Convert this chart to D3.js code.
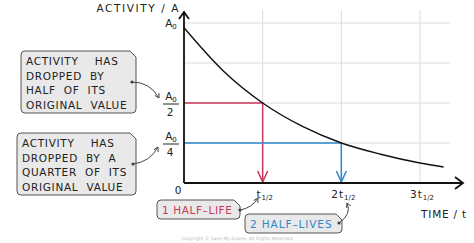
<!DOCTYPE html>
<html>
<head>
<meta charset="utf-8">
<script src="https://cdn.jsdelivr.net/npm/d3@7"></script>
<style>
  body { margin: 0; background: #fff; }
  svg { display: block; font-family: "DejaVu Sans", sans-serif; }
</style>
</head>
<body>
<svg width="474" height="243"></svg>
<script>
var width = 474;
var height = 243;

// decay curve (time in half-lives, activity as fraction of A0)
var halfLives = [0, 0.5, 1, 1.5, 2, 2.5, 3, 3.3];
var activity  = [0.97, 0.7, 0.5, 0.355, 0.25, 0.18, 0.125, 0.1];

var gridY = [0.25, 0.5, 0.75, 1];
var gridX = [1, 2, 3];
var tickPrefix = ["", "2", "3"];

var markerLevels = [0.5, 0.25];   // A0/2 and A0/4
var markerTimes  = [1, 2];
var markerColors = ["#c8385a", "#2f86c8"];

var boxLines1 = ["ACTIVITY    HAS", "DROPPED  BY", "HALF  OF  ITS", "ORIGINAL  VALUE"];
var boxLines2 = ["ACTIVITY    HAS", "DROPPED  BY  A", "QUARTER  OF  ITS", "ORIGINAL  VALUE"];
var halfLifeLabels = ["1 HALF\u2013LIFE", "2 HALF\u2013LIVES"];

var x = d3.scaleLinear().domain([0, 3]).range([184, 420]);
var y = d3.scaleLinear().domain([0, 1]).range([183, 23]);

var svg = d3.select('svg');

// grid
svg.selectAll('.gy').data(gridY).enter().append('line')
  .attr('x1', x(0)).attr('x2', x(3.38))
  .attr('y1', function(d) { return y(d); }).attr('y2', function(d) { return y(d); })
  .attr('stroke', '#dcdcdc').attr('stroke-width', 1);
svg.selectAll('.gx').data(gridX).enter().append('line')
  .attr('x1', function(d) { return x(d); }).attr('x2', function(d) { return x(d); })
  .attr('y1', y(0)).attr('y2', y(1.08))
  .attr('stroke', '#dcdcdc').attr('stroke-width', 1);

// red / blue guide lines
markerLevels.forEach(function(lv, i) {
  var c = markerColors[i];
  var tx = x(markerTimes[i]);
  svg.append('path')
    .attr('d', 'M' + x(0) + ',' + y(lv) + 'H' + tx + 'V' + (y(0) - 1))
    .attr('fill', 'none').attr('stroke', c).attr('stroke-width', 1.5);
  svg.append('path')
    .attr('d', 'M' + (tx - 5) + ',' + (y(0) - 12) + 'L' + tx + ',' + (y(0) - 1) + 'L' + (tx + 5) + ',' + (y(0) - 12))
    .attr('fill', 'none').attr('stroke', c).attr('stroke-width', 1.5);
});

// decay curve
var pts = halfLives.map(function(t, i) { return [x(t), y(activity[i])]; });
svg.append('path')
  .attr('d', d3.line().curve(d3.curveMonotoneX)(pts))
  .attr('fill', 'none').attr('stroke', '#111').attr('stroke-width', 1.4);

// axes
svg.append('path')
  .attr('d', 'M' + x(0) + ',' + y(0) + 'V12 M' + (x(0) - 5) + ',19 L' + x(0) + ',12 L' + (x(0) + 5) + ',19')
  .attr('fill', 'none').attr('stroke', '#111').attr('stroke-width', 1.8);
svg.append('path')
  .attr('d', 'M' + x(0) + ',' + y(0) + 'H463 M455,177 L463,' + y(0) + ' L455,189')
  .attr('fill', 'none').attr('stroke', '#111').attr('stroke-width', 1.8);

var ink = '#222';
var fs = 10.5;

function label(px, py, anchor, s, ls) {
  return svg.append('text').attr('x', px).attr('y', py).attr('text-anchor', anchor)
    .attr('font-size', fs).attr('letter-spacing', ls).attr('fill', ink)
    .attr('xml:space', 'preserve').text(s);
}

// axis titles
label(180, 12, 'end', 'ACTIVITY / A', 1.6);
label(467, 218, 'end', 'TIME / t', 0.8);
label(178, 194, 'middle', '0', 0);

// A0 label
function a0(px, py) {
  var t = svg.append('text').attr('x', px).attr('y', py).attr('text-anchor', 'middle')
    .attr('font-size', fs).attr('fill', ink);
  t.append('tspan').text('A');
  t.append('tspan').attr('font-size', 7).attr('dy', 2).text('0');
}
a0(171, 27);

// fraction labels
[2, 4].forEach(function(den, i) {
  var ly = y(markerLevels[i]) + 1;
  a0(171, ly - 4);
  svg.append('line').attr('x1', 163).attr('x2', 179).attr('y1', ly).attr('y2', ly)
    .attr('stroke', ink).attr('stroke-width', 1);
  svg.append('text').attr('x', 170).attr('y', ly + 12).attr('text-anchor', 'middle')
    .attr('font-size', fs).attr('fill', ink).text(den);
});

// t1/2 tick labels
gridX.forEach(function(d, i) {
  var t = svg.append('text').attr('x', x(d) + 2).attr('y', 198).attr('text-anchor', 'middle')
    .attr('font-size', fs).attr('fill', ink);
  t.append('tspan').attr('letter-spacing', 1).text(tickPrefix[i] + 't');
  t.append('tspan').attr('font-size', 7).attr('dy', 2).text('1/2');
});

// callout box with bevelled top-right corner
function callout(x0, y0, w, h, lines, color, lh, ls) {
  var r = 4, cut = 6;
  var p = d3.path();
  p.moveTo(x0 + r, y0);
  p.lineTo(x0 + w - cut, y0);
  p.lineTo(x0 + w, y0 + cut);
  p.lineTo(x0 + w, y0 + h - r);
  p.quadraticCurveTo(x0 + w, y0 + h, x0 + w - r, y0 + h);
  p.lineTo(x0 + r, y0 + h);
  p.quadraticCurveTo(x0, y0 + h, x0, y0 + h - r);
  p.lineTo(x0, y0 + r);
  p.quadraticCurveTo(x0, y0, x0 + r, y0);
  svg.append('path').attr('d', p.toString())
    .attr('fill', '#e9e9e9').attr('stroke', '#555').attr('stroke-width', 1);
  lines.forEach(function(s, i) {
    svg.append('text').attr('x', x0 + 5).attr('y', y0 + 14 + i * lh)
      .attr('font-size', fs).attr('letter-spacing', ls).attr('fill', color)
      .attr('xml:space', 'preserve').text(s);
  });
}

callout(21, 51, 115, 62, boxLines1, ink, 14.5, 0.7);
callout(17, 133, 119, 62, boxLines2, ink, 14.5, 0.7);
callout(157, 200, 83, 19, [halfLifeLabels[0]], markerColors[0], 0, 0.6);
callout(245, 214, 97, 19, [halfLifeLabels[1]], markerColors[1], 0, 0.9);

// curved pointer arrows from a dot
function pointer(sx, sy, cx, cy, ex, ey) {
  svg.append('circle').attr('cx', sx).attr('cy', sy).attr('r', 1.6).attr('fill', '#444');
  svg.append('path').attr('d', 'M' + sx + ',' + sy + 'Q' + cx + ',' + cy + ' ' + ex + ',' + ey)
    .attr('fill', 'none').attr('stroke', '#444').attr('stroke-width', 1);
  var a = Math.atan2(ey - cy, ex - cx);
  var L = 5;
  svg.append('path')
    .attr('d', 'M' + (ex - L * Math.cos(a - 0.5)) + ',' + (ey - L * Math.sin(a - 0.5)) +
      'L' + ex + ',' + ey + 'L' + (ex - L * Math.cos(a + 0.5)) + ',' + (ey - L * Math.sin(a + 0.5)))
    .attr('fill', 'none').attr('stroke', '#444').attr('stroke-width', 1);
}

pointer(132, 82, 150, 82, 159, 98);
pointer(133, 164, 150, 162, 158, 147);
pointer(240, 210, 252, 208, 258, 198);
pointer(339, 223, 352, 214, 347, 203);

// copyright
svg.append('text').attr('x', 237).attr('y', 240).attr('text-anchor', 'middle')
  .attr('font-size', 4.5).attr('fill', '#bbb').text('Copyright \u00a9 Save My Exams. All Rights Reserved');
</script>
</body>
</html>
